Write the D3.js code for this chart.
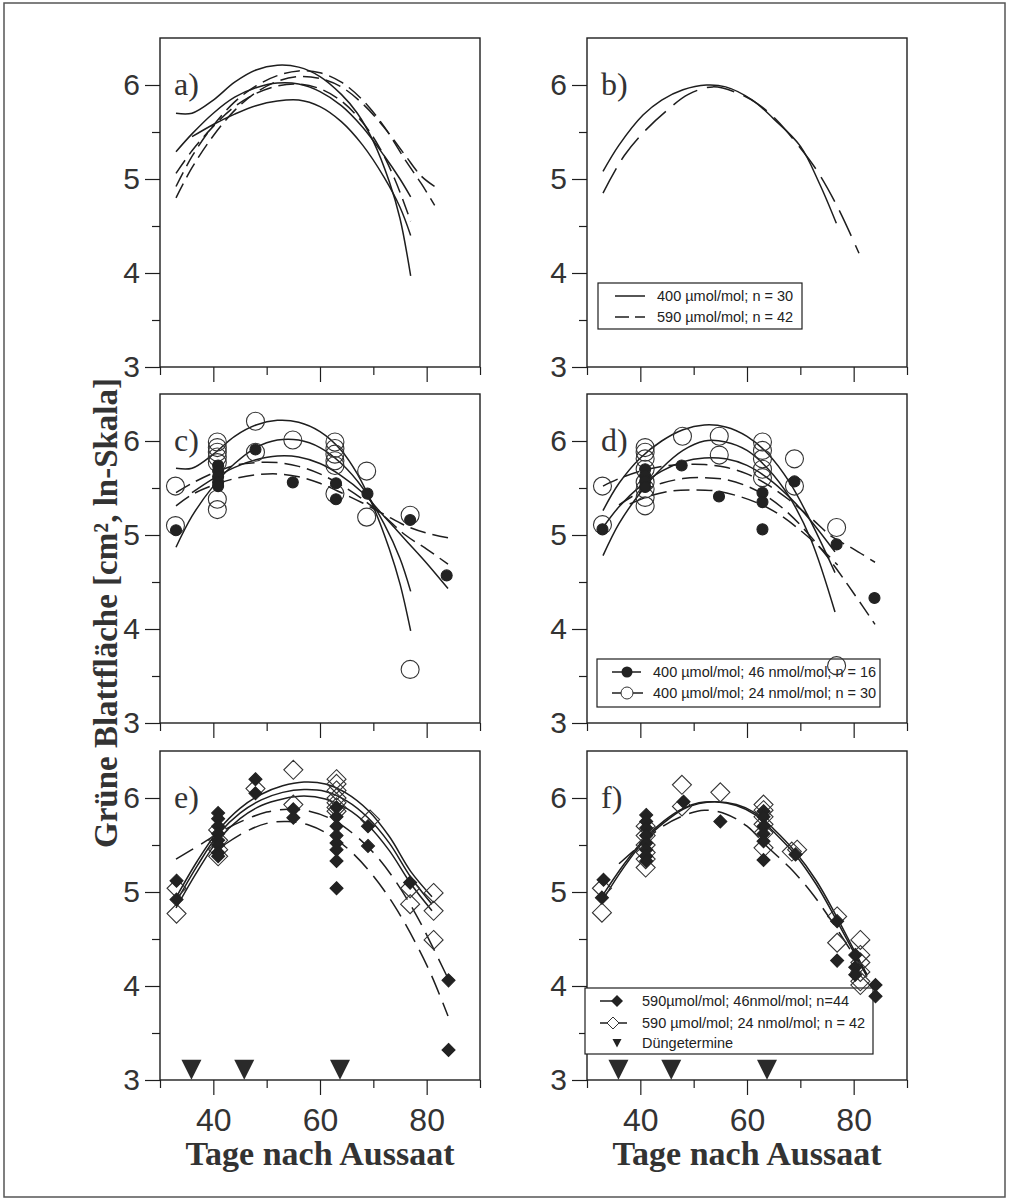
<!DOCTYPE html>
<html><head><meta charset="utf-8">
<script src="https://cdn.jsdelivr.net/npm/d3@7"></script>
<style>body{margin:0;background:#fff}</style>
</head><body>
<script>
// ---------- data ----------
const xMajorTicks = [40, 60, 80];
const xMinorTicks = [30, 50, 70, 90];
const yMajorTicks = [3, 4, 5, 6];
const yMinorTicks = [3.5, 4.5, 5.5];
const panelLabels = ["a)", "b)", "c)", "d)", "e)", "f)"];

// panel a curves
const aSolid1 = [[33,5.70],[36,5.70],[40,5.84],[44,6.03],[48,6.16],[52,6.21],[56,6.19],[60,6.09],[64,5.90],[67,5.70],[70,5.40],[73,4.97],[75,4.58],[77,3.97]];
const aSolid2 = [[33,5.29],[36,5.48],[40,5.70],[44,5.87],[48,5.97],[52,6.02],[56,6.01],[60,5.93],[64,5.78],[68,5.55],[72,5.25],[75,5.00],[77,4.81]];
const aSolid3 = [[36,5.45],[40,5.58],[44,5.69],[48,5.78],[52,5.83],[56,5.84],[60,5.77],[64,5.61],[68,5.36],[72,5.02],[75,4.70],[77,4.40]];
const aDash1 = [[33,4.92],[36,5.24],[40,5.57],[44,5.82],[48,5.99],[52,6.10],[56,6.15],[60,6.13],[64,6.03],[68,5.84],[72,5.56],[76,5.20],[79,4.95],[81.5,4.72]];
const aDash2 = [[33,4.80],[36,5.12],[40,5.46],[44,5.73],[48,5.92],[52,6.04],[56,6.09],[60,6.07],[64,5.98],[68,5.80],[72,5.55],[76,5.25],[79,5.03],[81.5,4.92]];
const aDash3 = [[33,5.06],[36,5.30],[40,5.56],[44,5.77],[48,5.91],[52,5.99],[56,6.01],[60,5.96],[64,5.83],[68,5.60],[71,5.35],[74,5.00],[77,4.55]];

// panel b curves
const bSolid = [[33,5.08],[36,5.36],[40.5,5.68],[44,5.84],[48,5.95],[52.4,6.00],[56,5.98],[61,5.84],[65,5.64],[70,5.35],[73.6,4.95],[76.75,4.53]];
const bDash = [[33,4.85],[37,5.25],[41,5.52],[45,5.73],[49,5.90],[53.6,5.98],[58,5.92],[62,5.80],[65.5,5.63],[69,5.40],[73,5.10],[77,4.70],[81,4.21]];

// panel c curves
const cSolid1 = [[33,5.71],[36,5.71],[40,5.86],[44,6.05],[48,6.17],[52,6.22],[56,6.20],[60,6.10],[64,5.90],[67,5.65],[70,5.30],[73,4.85],[75,4.48],[77,3.98]];
const cSolid2 = [[33,4.87],[36,5.20],[40,5.52],[44,5.76],[48,5.93],[52,6.01],[56,6.01],[60,5.93],[64,5.76],[68,5.50],[72,5.12],[75,4.75],[77,4.40]];
const cSolid3 = [[36,5.45],[40,5.60],[44,5.72],[48,5.80],[52,5.84],[56,5.83],[60,5.76],[64,5.63],[68,5.45],[72,5.20],[76,4.95],[80,4.70],[84,4.43]];
const cDash1 = [[33,5.45],[36,5.55],[40,5.66],[44,5.74],[48,5.77],[52,5.77],[56,5.73],[60,5.65],[64,5.53],[68,5.38],[72,5.20],[76,5.00],[80,4.85],[84,4.69]];
const cDash2 = [[33,5.31],[36,5.43],[40,5.53],[44,5.60],[48,5.64],[52,5.65],[56,5.62],[60,5.55],[64,5.45],[68,5.34],[72,5.22],[76,5.10],[80,5.02],[84,4.97]];

// panel d curves
const dSolid1 = [[33,5.26],[36,5.55],[40,5.82],[44,6.00],[48,6.12],[52,6.17],[56,6.15],[60,6.05],[64,5.86],[68,5.56],[72,5.14],[76.5,4.60]];
const dSolid2 = [[33,4.78],[36,5.12],[40,5.45],[44,5.71],[48,5.90],[52,6.00],[56,5.99],[60,5.90],[64,5.70],[68,5.40],[72,4.95],[76.5,4.18]];
const dSolid3 = [[33,5.08],[36,5.30],[40,5.52],[44,5.68],[48,5.78],[52,5.82],[56,5.81],[60,5.74],[64,5.60],[68,5.40],[72,5.15],[76.5,4.82]];
const dDash1 = [[33,5.52],[36,5.60],[40,5.68],[44,5.73],[48,5.75],[52,5.75],[56,5.72],[60,5.65],[64,5.53],[68,5.37],[72,5.18],[76,4.98],[80,4.85],[84,4.71]];
const dDash2 = [[36,5.32],[40,5.46],[44,5.55],[48,5.60],[52,5.61],[56,5.59],[60,5.52],[64,5.40],[68,5.22],[72,4.98],[76,4.70],[80,4.38],[84,4.05]];
const dDash3 = [[38,5.33],[42,5.42],[46,5.47],[50,5.48],[54,5.47],[58,5.42],[62,5.34],[66,5.22],[70,5.05],[74,4.85],[77,4.68]];

// panel e curves
const eSolid1 = [[33,4.94],[37,5.33],[41,5.66],[45,5.89],[49,6.04],[53,6.13],[57,6.17],[61,6.15],[65,6.05],[69,5.87],[73,5.59],[77,5.22],[81,4.95]];
const eSolid2 = [[33,4.89],[37,5.28],[41,5.62],[45,5.84],[49,5.98],[53,6.06],[57,6.09],[61,6.07],[65,5.97],[69,5.79],[73,5.52],[77,5.16],[81,4.87]];
const eSolid3 = [[33,4.83],[37,5.22],[41,5.56],[45,5.78],[49,5.92],[53,5.99],[57,6.02],[61,5.99],[65,5.89],[69,5.71],[73,5.44],[77,5.09],[81,4.80]];
const eDash1 = [[33,5.35],[38,5.52],[42,5.66],[46,5.77],[50,5.85],[54,5.88],[58,5.86],[62,5.78],[66,5.63],[70,5.42],[74,5.13],[78,4.76],[81,4.43],[84,4.08]];
const eDash2 = [[42,5.50],[46,5.64],[50,5.73],[54,5.75],[58,5.71],[62,5.60],[66,5.42],[70,5.17],[74,4.85],[78,4.45],[81,4.10],[84,3.68]];

// panel f curves
const fSolid1 = [[33,4.92],[37,5.27],[41,5.56],[44.5,5.74],[48,5.88],[51,5.94],[54,5.96],[58,5.93],[61.6,5.84],[65,5.67],[69,5.43],[73,5.12],[76.6,4.76],[80,4.39],[82.5,4.12]];
const fSolid2 = [[33,4.97],[37,5.30],[41,5.58],[44.5,5.76],[48,5.89],[51,5.95],[54,5.96],[58,5.92],[61.6,5.82],[65,5.64],[69,5.40],[73,5.08],[76.6,4.72],[80,4.36],[82.5,4.10]];
const fDash1 = [[36,5.30],[40,5.50],[44,5.69],[48,5.81],[52,5.87],[56,5.83],[60,5.70],[64,5.47],[68,5.26],[72,5.00],[76,4.68],[80,4.33],[82.5,4.12]];

// points
const cOpen = [[32.9,5.52],[32.9,5.10],[40.75,5.99],[40.75,5.93],[40.75,5.88],[40.75,5.83],[40.75,5.77],[40.75,5.38],[40.75,5.27],[47.9,6.21],[47.9,5.88],[54.9,6.01],[62.8,5.99],[62.8,5.92],[62.8,5.86],[62.8,5.79],[62.8,5.74],[62.8,5.44],[68.75,5.68],[68.75,5.19],[76.9,5.21],[76.9,3.57]];
const cFilled = [[33,5.05],[40.9,5.74],[40.9,5.68],[40.9,5.62],[40.9,5.56],[40.9,5.52],[47.9,5.91],[54.9,5.56],[63,5.55],[63,5.38],[68.9,5.44],[76.9,5.16],[83.75,4.57]];
const dOpen = [[32.9,5.52],[32.9,5.11],[40.9,5.93],[40.9,5.88],[40.9,5.81],[40.9,5.70],[40.9,5.56],[40.9,5.49],[40.9,5.40],[40.9,5.31],[47.9,6.05],[54.8,6.05],[54.8,5.85],[62.9,5.99],[62.9,5.90],[62.9,5.81],[62.9,5.70],[62.9,5.61],[68.9,5.81],[68.9,5.52],[76.8,5.08],[76.8,3.61]];
const dFilled = [[32.9,5.06],[40.9,5.70],[40.9,5.63],[40.9,5.57],[40.9,5.51],[47.75,5.74],[54.75,5.41],[62.9,5.45],[62.9,5.35],[62.9,5.06],[68.9,5.57],[76.8,4.90],[83.9,4.33]];
const eOpen = [[33.1,5.04],[33.1,4.77],[40.9,5.66],[40.9,5.55],[40.9,5.45],[40.9,5.38],[47.9,6.10],[55,6.30],[55,5.93],[63.1,6.20],[63.1,6.15],[63.1,6.08],[63.1,6.00],[63.1,5.95],[63.1,5.90],[63.1,5.86],[69.4,5.77],[76.9,5.04],[76.9,4.87],[81.3,4.99],[81.3,4.80],[81.3,4.49]];
const eFilled = [[33.1,5.12],[33.1,4.92],[40.9,5.84],[40.9,5.78],[40.9,5.70],[40.9,5.62],[40.9,5.55],[40.9,5.50],[40.9,5.42],[40.9,5.38],[47.9,6.20],[47.9,6.05],[55,5.88],[55,5.79],[63.1,5.90],[63.1,5.80],[63.1,5.70],[63.1,5.60],[63.1,5.52],[63.1,5.45],[63.1,5.33],[63.1,5.04],[69,5.70],[69,5.49],[76.9,5.10],[84.1,4.06],[84.1,3.32]];
const fOpen = [[32.8,5.04],[32.8,4.78],[41,5.70],[41,5.60],[41,5.50],[41,5.42],[41,5.35],[41,5.26],[47.8,6.14],[47.8,5.91],[55,6.06],[63.1,5.93],[63.1,5.87],[63.1,5.80],[63.1,5.72],[63.1,5.63],[63.1,5.47],[68.4,5.43],[69.4,5.45],[76.9,4.74],[76.9,4.46],[81.25,4.49],[81.25,4.33],[81.25,4.25],[81.25,4.15],[81.25,4.05],[81.25,4.01]];
const fFilled = [[33.1,5.13],[32.8,4.94],[41.1,5.82],[41.1,5.75],[41.1,5.68],[41.1,5.60],[41.1,5.52],[41.1,5.45],[41.1,5.38],[41.1,5.33],[48.1,5.96],[55,5.75],[63.1,5.86],[63.1,5.80],[63.1,5.70],[63.1,5.62],[63.1,5.54],[63.1,5.34],[69.1,5.40],[76.9,4.69],[76.9,4.27],[80.3,4.33],[80.3,4.20],[80.3,4.12],[84.1,4.01],[84.1,3.89]];
const fertDates = [35.9, 45.8, 63.75];
const fertLevel = 3.11;

const legendB = ["400 µmol/mol; n = 30", "590 µmol/mol; n = 42"];
const legendD = ["400 µmol/mol; 46 nmol/mol; n = 16", "400 µmol/mol; 24 nmol/mol; n = 30"];
const legendF = ["590µmol/mol; 46nmol/mol; n=44", "590 µmol/mol; 24 nmol/mol; n = 42", "Düngetermine"];
const xTitle = "Tage nach Aussaat";
const yTitle = "Grüne Blattfläche [cm², ln-Skala]";

// ---------- drawing ----------
const W = 1012, H = 1199;
const INK = "#1e1e1e", TXT = "#333";
const colX = [160, 587], rowY = [38, 394, 751], PW = 320, PH = 329;
const svg = d3.select("body").append("svg").attr("width", W).attr("height", H);

svg.append("rect").attr("x", 4).attr("y", 3).attr("width", 1001).attr("height", 1194)
  .attr("fill", "none").attr("stroke", "#555").attr("stroke-width", 1.5);

function makePanel(col, row, label) {
  const g = svg.append("g").attr("transform", `translate(${colX[col]},${rowY[row]})`);
  const x = d3.scaleLinear().domain([30, 90]).range([0, PW]);
  const y = d3.scaleLinear().domain([3, 6.5]).range([PH, 0]);
  const yMaj = d3.axisLeft(y).tickValues(yMajorTicks).tickSize(15).tickPadding(5).tickFormat(d3.format("d"));
  const yMin = d3.axisLeft(y).tickValues(yMinorTicks).tickSize(8).tickFormat("");
  const xMaj = d3.axisBottom(x).tickValues(xMajorTicks).tickSize(15).tickPadding(13)
    .tickFormat(row === 2 ? d3.format("d") : "");
  const xMin = d3.axisBottom(x).tickValues(xMinorTicks).tickSize(8).tickFormat("");
  const ya = g.append("g").call(yMaj); g.append("g").call(yMin);
  const xa = g.append("g").attr("transform", `translate(0,${PH})`).call(xMaj);
  g.append("g").attr("transform", `translate(0,${PH})`).call(xMin);
  g.selectAll(".domain").remove();
  g.selectAll(".tick line").attr("stroke", INK).attr("stroke-width", 1.2);
  ya.selectAll("text").attr("font-family", "'Liberation Sans', Arial, sans-serif").attr("font-size", 30).attr("fill", TXT);
  xa.selectAll("text").attr("font-family", "'Liberation Sans', Arial, sans-serif").attr("font-size", 32).attr("fill", TXT);
  g.append("rect").attr("width", PW).attr("height", PH).attr("fill", "none").attr("stroke", INK).attr("stroke-width", 1.4);
  g.append("text").attr("x", 14).attr("y", 57).text(label)
    .attr("font-family", "'Liberation Serif', 'Times New Roman', serif").attr("font-size", 32).attr("fill", TXT);
  return { g, x, y };
}

function drawCurve(p, data, dash) {
  const line = d3.line().x(d => p.x(d[0])).y(d => p.y(d[1])).curve(d3.curveCatmullRom.alpha(0.5));
  p.g.append("path").attr("d", line(data)).attr("fill", "none").attr("stroke", INK)
    .attr("stroke-width", 1.5).attr("stroke-dasharray", dash || null);
}
function circles(p, data, r, filled) {
  p.g.selectAll(null).data(data).enter().append("circle")
    .attr("cx", d => p.x(d[0])).attr("cy", d => p.y(d[1])).attr("r", r)
    .attr("fill", filled ? "#222" : "none").attr("stroke", filled ? "#222" : "#333").attr("stroke-width", 1.1);
}
const diamond = s => `M0,${-s}L${s},0L0,${s}L${-s},0Z`;
function diamonds(p, data, s, filled) {
  p.g.selectAll(null).data(data).enter().append("path")
    .attr("transform", d => `translate(${p.x(d[0])},${p.y(d[1])})`).attr("d", diamond(s))
    .attr("fill", filled ? "#222" : "none").attr("stroke", filled ? "#222" : "#333").attr("stroke-width", 1.1);
}
function triangles(p, xs, lvl) {
  p.g.selectAll(null).data(xs).enter().append("path")
    .attr("transform", d => `translate(${p.x(d)},${p.y(lvl)})`)
    .attr("d", "M-10,-10L10,-10L0,10Z").attr("fill", "#2a2a2a");
}
function legendText(g, x, y, t) {
  g.append("text").attr("x", x).attr("y", y).attr("dy", "0.35em").text(t)
    .attr("font-family", "'Liberation Sans', Arial, sans-serif").attr("font-size", 14.5).attr("fill", "#222");
}

const LD = "16,7", LD2 = "28,10", LD3 = "20,9";

// a
const pa = makePanel(0, 0, panelLabels[0]);
[aSolid1, aSolid2, aSolid3].forEach(c => drawCurve(pa, c));
[aDash1, aDash2, aDash3].forEach(c => drawCurve(pa, c, LD));

// b
const pb = makePanel(1, 0, panelLabels[1]);
drawCurve(pb, bSolid);
drawCurve(pb, bDash, LD2);
{
  const lg = pb.g.append("g").attr("transform", "translate(11,245)");
  lg.append("rect").attr("width", 204).attr("height", 46).attr("fill", "#fff").attr("stroke", INK).attr("stroke-width", 1.2);
  lg.append("line").attr("x1", 17).attr("x2", 47).attr("y1", 13).attr("y2", 13).attr("stroke", INK).attr("stroke-width", 1.5);
  lg.append("line").attr("x1", 17).attr("x2", 47).attr("y1", 34).attr("y2", 34).attr("stroke", INK).attr("stroke-width", 1.5).attr("stroke-dasharray", "14,6");
  legendText(lg, 59, 13, legendB[0]);
  legendText(lg, 59, 34, legendB[1]);
}

// c
const pc = makePanel(0, 1, panelLabels[2]);
[cSolid1, cSolid2, cSolid3].forEach(c => drawCurve(pc, c));
[cDash1, cDash2].forEach(c => drawCurve(pc, c, LD));
circles(pc, cOpen, 9, false);
circles(pc, cFilled, 5.5, true);

// d
const pd = makePanel(1, 1, panelLabels[3]);
[dSolid1, dSolid2, dSolid3].forEach(c => drawCurve(pd, c));
[dDash1, dDash2, dDash3].forEach(c => drawCurve(pd, c, LD));
{
  const lg = pd.g.append("g").attr("transform", "translate(10,265)");
  lg.append("rect").attr("width", 283).attr("height", 48).attr("fill", "#fff").attr("stroke", INK).attr("stroke-width", 1.2);
  lg.append("line").attr("x1", 15).attr("x2", 46).attr("y1", 13).attr("y2", 13).attr("stroke", INK).attr("stroke-width", 1.5).attr("stroke-dasharray", "12,5");
  lg.append("circle").attr("cx", 30).attr("cy", 13).attr("r", 5.5).attr("fill", "#222");
  lg.append("line").attr("x1", 15).attr("x2", 46).attr("y1", 34).attr("y2", 34).attr("stroke", INK).attr("stroke-width", 1.5);
  lg.append("circle").attr("cx", 30).attr("cy", 34).attr("r", 6).attr("fill", "#fff").attr("stroke", "#333");
  legendText(lg, 56, 13, legendD[0]);
  legendText(lg, 56, 34, legendD[1]);
}
circles(pd, dOpen, 9, false);
circles(pd, dFilled, 5.5, true);

// e
const pe = makePanel(0, 2, panelLabels[4]);
[eSolid1, eSolid2, eSolid3].forEach(c => drawCurve(pe, c));
[eDash1, eDash2].forEach(c => drawCurve(pe, c, LD3));
diamonds(pe, eOpen, 9.5, false);
diamonds(pe, eFilled, 6.5, true);
triangles(pe, fertDates, fertLevel);

// f
const pf = makePanel(1, 2, panelLabels[5]);
drawCurve(pf, fSolid1);
drawCurve(pf, fSolid2);
drawCurve(pf, fDash1, LD3);
{
  const lg = pf.g.append("g").attr("transform", "translate(-2,237)");
  lg.append("rect").attr("width", 288).attr("height", 66).attr("fill", "#fff").attr("stroke", INK).attr("stroke-width", 1.2);
  lg.append("line").attr("x1", 15).attr("x2", 32).attr("y1", 13).attr("y2", 13).attr("stroke", INK).attr("stroke-width", 1.5);
  lg.append("path").attr("transform", "translate(32,13)").attr("d", diamond(6)).attr("fill", "#222");
  lg.append("line").attr("x1", 15).attr("x2", 42).attr("y1", 35).attr("y2", 35).attr("stroke", INK).attr("stroke-width", 1.5);
  lg.append("path").attr("transform", "translate(28,35)").attr("d", diamond(6)).attr("fill", "#fff").attr("stroke", "#333");
  lg.append("path").attr("transform", "translate(32,55)").attr("d", "M-4.5,-4L4.5,-4L0,4.5Z").attr("fill", "#222");
  legendText(lg, 57, 13, legendF[0]);
  legendText(lg, 57, 35, legendF[1]);
  legendText(lg, 57, 55, legendF[2]);
}
diamonds(pf, fOpen, 9.5, false);
diamonds(pf, fFilled, 6.5, true);
triangles(pf, fertDates, fertLevel);

// titles
const serifBold = "'Liberation Serif', 'Times New Roman', serif";
[320, 747].forEach(cx => svg.append("text").attr("x", cx).attr("y", 1165).attr("text-anchor", "middle")
  .attr("font-family", serifBold).attr("font-weight", "bold").attr("font-size", 34).attr("fill", TXT).text(xTitle));
svg.append("text").attr("transform", "translate(117,613) rotate(-90)").attr("text-anchor", "middle")
  .attr("font-family", serifBold).attr("font-weight", "bold").attr("font-size", 33).attr("fill", TXT).text(yTitle);
</script>
</body></html>
